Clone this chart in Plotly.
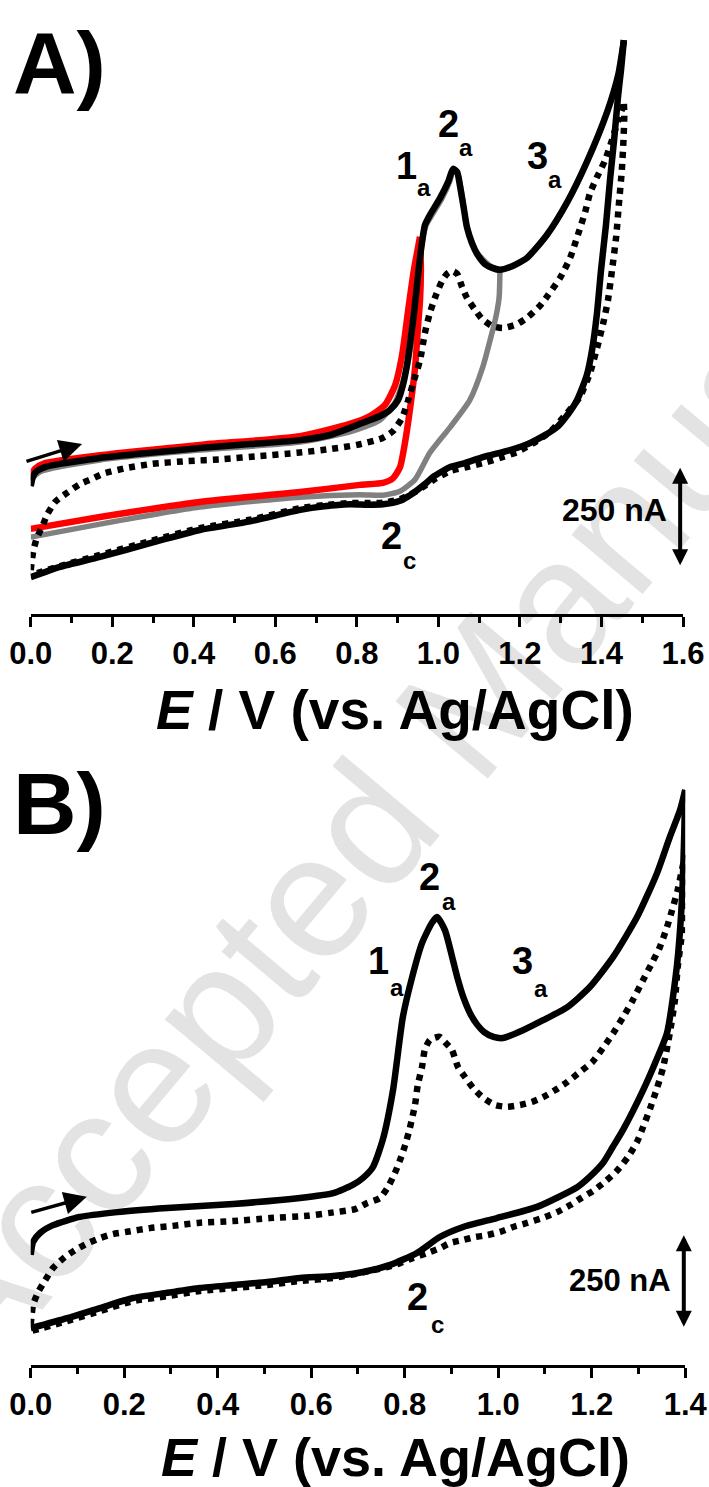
import plotly.graph_objects as go

# ---------------- Panel A data (E in V, I in nA) ----------------
A_black_fwd_E = [0.000,0.006,0.015,0.035,0.072,0.170,0.293,0.415,0.538,0.661,0.734,0.783,0.820,0.857,0.881,0.901,0.913,0.923,0.930,0.938,0.945,0.952,0.960,0.967,0.979,1.004,1.024,1.036,1.046,1.053,1.063,1.070,1.082,1.095,1.114,1.132,1.151,1.176,1.217,1.266,1.316,1.364,1.414,1.441,1.455]
A_black_fwd_I = [323,348,361,371,379,394,407,419,429,439,452,470,485,500,515,540,578,629,679,742,805,874,939,982,1007,1050,1091,1124,1116,1081,1020,977,937,909,884,874,869,876,899,957,1040,1141,1268,1361,1449]
A_black_rev_E = [1.455,1.448,1.441,1.431,1.421,1.411,1.399,1.389,1.377,1.364,1.340,1.316,1.291,1.257,1.225,1.176,1.109,1.065,1.029,0.987,0.967,0.948,0.926,0.906,0.864,0.825,0.783,0.720,0.661,0.538,0.415,0.293,0.170,0.072,0.000]
A_black_rev_I = [1449,1374,1310,1197,1096,982,869,760,667,603,540,502,472,449,432,414,396,381,371,346,328,313,297,286,277,276,277,272,263,234,212,179,144,119,93]

A_dot_fwd_E = [0.000,0.006,0.015,0.028,0.040,0.060,0.089,0.121,0.150,0.177,0.236,0.298,0.383,0.472,0.562,0.653,0.739,0.800,0.862,0.889,0.911,0.926,0.938,0.955,0.967,0.979,0.994,1.009,1.021,1.033,1.046,1.058,1.070,1.090,1.107,1.132,1.158,1.193,1.220,1.249,1.269,1.298,1.323,1.342,1.360,1.372,1.389,1.409,1.426,1.441,1.455]
A_dot_fwd_I = [111,157,192,220,250,283,306,328,341,354,369,379,386,391,399,407,417,427,444,462,495,540,583,641,710,760,805,841,859,866,859,826,798,768,745,727,722,732,750,778,805,848,899,957,1015,1063,1103,1146,1197,1247,1288]
A_dot_rev_E = [1.455,1.456,1.454,1.450,1.443,1.436,1.426,1.416,1.406,1.391,1.372,1.347,1.316,1.274,1.237,1.193,1.151,1.109,1.070,1.029,0.987,0.948,0.906,0.864,0.825,0.783,0.720,0.661,0.538,0.415,0.293,0.170,0.072,0.000]
A_dot_rev_I = [1288,1260,1197,1121,1038,952,869,793,742,679,609,548,508,460,434,409,394,381,371,361,338,311,290,281,280,280,275,267,238,217,184,149,121,98]

A_red_fwd_E = [0.000,0.011,0.035,0.170,0.415,0.661,0.783,0.832,0.869,0.894,0.911,0.926,0.940,0.955]
A_red_fwd_I = [350,367,381,401,427,449,480,500,528,578,654,768,869,952]
A_red_rev_E = [0.955,0.957,0.955,0.950,0.943,0.930,0.918,0.906,0.889,0.864,0.808,0.661,0.415,0.170,0.000]
A_red_rev_I = [952,869,793,725,624,515,432,371,343,331,326,308,283,245,215]

A_gray_fwd_E = [0.000,0.023,0.170,0.415,0.661,0.783,0.857,0.894,0.918,0.933,0.945,0.957,0.970,0.984,1.009,1.029,1.036,1.048,1.058,1.070,1.095,1.127,1.151]
A_gray_fwd_I = [338,359,389,414,434,460,490,535,603,679,793,919,982,1007,1050,1096,1121,1109,1058,977,912,879,869]
A_gray_rev_E = [1.151,1.149,1.141,1.132,1.109,1.077,1.029,0.979,0.943,0.906,0.864,0.808,0.661,0.415,0.170,0.000]
A_gray_rev_I = [869,800,750,712,624,540,472,407,340,310,300,301,295,270,227,194]

# ---------------- Panel B data ----------------
B_black_fwd_E = [0.000,0.005,0.020,0.048,0.105,0.185,0.292,0.433,0.576,0.647,0.689,0.711,0.732,0.753,0.775,0.796,0.816,0.837,0.858,0.869,0.886,0.903,0.914,0.925,0.940,0.955,0.970,0.990,1.010,1.053,1.096,1.148,1.196,1.246,1.297,1.340,1.367,1.389,1.400]
B_black_fwd_I = [296,331,355,376,398,411,422,433,449,462,484,503,532,605,739,935,1043,1134,1188,1204,1169,1089,1035,990,945,915,895,882,879,900,927,962,1016,1097,1204,1323,1419,1492,1546]
B_black_rev_E = [1.400,1.398,1.393,1.382,1.361,1.335,1.310,1.267,1.245,1.224,1.195,1.169,1.083,0.997,0.925,0.875,0.826,0.769,0.711,0.647,0.576,0.506,0.433,0.362,0.292,0.219,0.148,0.078,0.000]
B_black_rev_I = [1546,1430,1250,1070,892,810,739,632,586,543,505,478,425,395,371,344,301,269,250,239,234,223,215,207,194,180,153,126,99]

B_dot_fwd_E = [0.000,0.005,0.016,0.031,0.048,0.073,0.099,0.123,0.148,0.176,0.206,0.255,0.304,0.358,0.433,0.512,0.591,0.640,0.694,0.719,0.747,0.764,0.779,0.790,0.801,0.811,0.822,0.828,0.837,0.843,0.854,0.875,0.886,0.901,0.914,0.929,0.946,0.968,0.993,1.019,1.047,1.072,1.096,1.122,1.148,1.175,1.201,1.224,1.246,1.267,1.288,1.310,1.329,1.346,1.361,1.372,1.384,1.393,1.400]
B_dot_fwd_I = [108,161,196,228,261,290,312,328,341,352,358,368,374,382,387,395,401,409,419,435,449,478,516,551,591,637,699,753,801,847,874,882,868,847,801,774,745,718,699,694,699,707,720,739,761,788,814,852,892,935,981,1035,1081,1124,1177,1223,1277,1331,1371]
B_dot_rev_E = [1.400,1.397,1.393,1.384,1.378,1.367,1.353,1.340,1.325,1.310,1.297,1.278,1.254,1.228,1.203,1.179,1.154,1.126,1.094,1.062,1.032,1.004,0.976,0.950,0.925,0.897,0.875,0.848,0.818,0.790,0.762,0.732,0.704,0.647,0.576,0.506,0.433,0.362,0.292,0.219,0.148,0.078,0.000]
B_dot_rev_I = [1371,1250,1161,1070,981,892,801,745,690,640,600,560,522,492,468,450,430,411,395,382,371,358,349,344,336,328,314,301,288,274,263,255,247,234,226,215,207,199,185,172,145,118,91]

# ---------------- annotations (data units) ----------------
A_peak_labels = [("1", "a", 0.921, 1131, 0.965, 1076), ("2", "a", 1.024, 1237, 1.068, 1177),
                 ("3", "a", 1.242, 1156, 1.286, 1098), ("2", "c", 0.886, 197, 0.930, 136)]
B_peak_labels = [("1", "a", 0.743, 1086, 0.783, 1016), ("2", "a", 0.852, 1312, 0.895, 1245),
                 ("3", "a", 1.051, 1086, 1.092, 1013), ("2", "c", 0.828, 183, 0.871, 110)]
A_scalebar = (1.593, 119, 369)   # E, I_bottom, I_top  (250 nA)
B_scalebar = (1.397, 99, 349)
A_scaletext = (1.433, 263)
B_scaletext = (1.261, 226)
A_scan_arrow = (-0.014, 384, 0.126, 429)
B_scan_arrow = (-0.002, 409, 0.120, 452)

FONT = "Liberation Sans, Arial, sans-serif"
DOT = "6px,6px"

fig = go.Figure()

def add(E, I, color, width, dash, xa, ya):
    fig.add_trace(go.Scatter(x=E, y=I, mode="lines", xaxis=xa, yaxis=ya,
                             line=dict(color=color, width=width, dash=dash,
                                       shape="spline", smoothing=0.6),
                             showlegend=False, hoverinfo="skip"))

# Panel A traces
add(A_gray_fwd_E, A_gray_fwd_I, "#808080", 5.5, "solid", "x", "y")
add(A_gray_rev_E, A_gray_rev_I, "#808080", 5.5, "solid", "x", "y")
add(A_red_fwd_E, A_red_fwd_I, "#ff0000", 6.5, "solid", "x", "y")
add(A_red_rev_E, A_red_rev_I, "#ff0000", 6.5, "solid", "x", "y")
add(A_black_fwd_E, A_black_fwd_I, "#000000", 6.5, "solid", "x", "y")
add(A_black_rev_E, A_black_rev_I, "#000000", 6.5, "solid", "x", "y")
add(A_dot_fwd_E, A_dot_fwd_I, "#000000", 6.5, DOT, "x", "y")
add(A_dot_rev_E, A_dot_rev_I, "#000000", 6.5, DOT, "x", "y")

# Panel B traces
add(B_black_fwd_E, B_black_fwd_I, "#000000", 6.5, "solid", "x2", "y2")
add(B_black_rev_E, B_black_rev_I, "#000000", 6.5, "solid", "x2", "y2")
add(B_dot_fwd_E, B_dot_fwd_I, "#000000", 6.5, DOT, "x2", "y2")
add(B_dot_rev_E, B_dot_rev_I, "#000000", 6.5, DOT, "x2", "y2")

W, H = 709, 1487
def px(x):
    return x / W
def py(y):
    return 1 - y / H

xcommon = dict(showline=True, linewidth=3, linecolor="black", ticks="outside",
               ticklen=10, tickwidth=3, tickcolor="black", dtick=0.2, tick0=0,
               tickformat=".1f", showgrid=False, zeroline=False, automargin=False,
               tickfont=dict(family=FONT, size=31, color="black", weight="bold"),
               minor=dict(dtick=0.1, ticks="outside", ticklen=6, tickwidth=3,
                          tickcolor="black", showgrid=False))
ycommon = dict(showline=False, showticklabels=False, showgrid=False, zeroline=False,
               ticks="", automargin=False)

fig.update_layout(
    width=W, height=H, margin=dict(l=0, r=0, t=0, b=0),
    paper_bgcolor="white", plot_bgcolor="rgba(0,0,0,0)", showlegend=False,
    xaxis=dict(domain=[px(30.7), px(683.0)], range=[0, 1.6], anchor="y", **xcommon),
    yaxis=dict(domain=[py(614), py(19.94)], range=[0, 1500], anchor="x", **ycommon),
    xaxis2=dict(domain=[px(30.7), px(685.2)], range=[0, 1.4], anchor="y2", **xcommon),
    yaxis2=dict(domain=[py(1365), py(769.8)], range=[0, 1600], anchor="x2", **ycommon),
)

# watermark
fig.add_shape(type="rect", xref="paper", yref="paper",
              x0=px(443), x1=px(445), y0=py(711), y1=py(709),
              line=dict(width=0), fillcolor="rgba(0,0,0,0)", layer="below",
              label=dict(text="Accepted Manuscript", textangle=-50,
                         textposition="middle center",
                         font=dict(family=FONT, size=175, color="#e3e3e3")))

ann = []
def txt(text, x, y, size, xref, yref, xanchor="center", yanchor="middle"):
    ann.append(dict(text=text, x=x, y=y, xref=xref, yref=yref, showarrow=False,
                    xanchor=xanchor, yanchor=yanchor,
                    font=dict(family=FONT, size=size, color="black")))

# panel letters
txt("<b>A)</b>", px(59), py(62), 88, "paper", "paper")
txt("<b>B)</b>", px(59), py(803), 88, "paper", "paper")
# axis titles
txt("<b><i>E</i> / V (vs. Ag/AgCl)</b>", px(395), py(710), 55, "paper", "paper")
txt("<b><i>E</i> / V (vs. Ag/AgCl)</b>", px(395), py(1457), 54, "paper", "paper")

for labels, xr, yr in ((A_peak_labels, "x", "y"), (B_peak_labels, "x2", "y2")):
    for main, sub, mx, my, sx, sy in labels:
        txt("<b>%s</b>" % main, mx, my, 38, xr, yr)
        txt("<b>%s</b>" % sub, sx, sy, 24, xr, yr)

txt("<b>250 nA</b>", A_scaletext[0], A_scaletext[1], 32, "x", "y")
txt("<b>250 nA</b>", B_scaletext[0], B_scaletext[1], 31, "x2", "y2")

for (e, ib, it), xr, yr in ((A_scalebar, "x", "y"), (B_scalebar, "x2", "y2")):
    ann.append(dict(text="", x=e, y=it, ax=e, ay=ib, xref=xr, yref=yr, axref=xr, ayref=yr,
                    showarrow=True, arrowhead=2, arrowside="end+start", arrowsize=0.8,
                    arrowwidth=4, arrowcolor="black", standoff=0, startstandoff=0))

for (e0, i0, e1, i1), xr, yr in ((A_scan_arrow, "x", "y"), (B_scan_arrow, "x2", "y2")):
    ann.append(dict(text="", x=e1, y=i1, ax=e0, ay=i0, xref=xr, yref=yr, axref=xr, ayref=yr,
                    showarrow=True, arrowhead=2, arrowsize=1.3, arrowwidth=3.5,
                    arrowcolor="black", standoff=0))

fig.update_layout(annotations=ann)
fig.write_html("out.html")
